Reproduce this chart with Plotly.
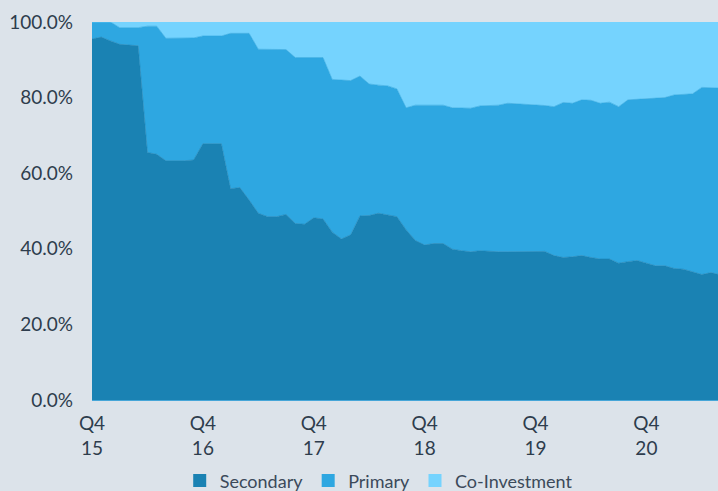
import plotly.graph_objects as go

# Monthly data, Q4 2015 onwards (month index 0 = Dec 2015)
months = list(range(69))

secondary = [95.5, 96.0, 95.0, 94.1, 93.9, 93.7, 65.5, 65.0, 63.3, 63.3,
             63.3, 63.5, 67.8, 67.8, 67.8, 55.9, 56.2, 52.9, 49.4, 48.5,
             48.5, 49.1, 46.7, 46.5, 48.2, 47.9, 44.4, 42.6, 43.7, 48.7,
             48.8, 49.4, 48.9, 48.5, 45.0, 42.2, 41.0, 41.4, 41.4, 39.9,
             39.5, 39.2, 39.5, 39.3, 39.2, 39.2, 39.2, 39.3, 39.3, 39.3,
             38.2, 37.7, 37.9, 38.2, 37.7, 37.3, 37.3, 36.2, 36.6, 36.9,
             36.2, 35.5, 35.5, 34.8, 34.6, 33.9, 33.2, 33.7, 33.1]

primary = [4.5, 4.0, 5.0, 4.4, 4.6, 4.8, 33.4, 33.9, 32.4, 32.4,
           32.4, 32.3, 28.5, 28.5, 28.5, 41.1, 40.8, 44.1, 43.4, 44.3,
           44.3, 43.6, 43.9, 44.1, 42.4, 42.7, 40.4, 42.0, 40.8, 37.0,
           34.8, 33.9, 34.2, 33.8, 32.3, 35.8, 37.0, 36.6, 36.6, 37.4,
           37.7, 38.0, 38.3, 38.6, 38.8, 39.3, 39.2, 38.9, 38.7, 38.6,
           39.4, 41.0, 40.6, 41.2, 41.6, 41.2, 41.5, 41.4, 42.8, 42.6,
           43.6, 44.2, 44.5, 45.9, 46.2, 47.1, 49.5, 48.8, 49.4]

co_investment = [0.0, 0.0, 0.0, 1.5, 1.5, 1.5, 1.1, 1.1, 4.3, 4.3,
                 4.3, 4.2, 3.7, 3.7, 3.7, 3.0, 3.0, 3.0, 7.2, 7.2,
                 7.2, 7.3, 9.4, 9.4, 9.4, 9.4, 15.2, 15.4, 15.5, 14.3,
                 16.4, 16.7, 16.9, 17.7, 22.7, 22.0, 22.0, 22.0, 22.0, 22.7,
                 22.8, 22.8, 22.2, 22.1, 22.0, 21.5, 21.6, 21.8, 22.0, 22.1,
                 22.4, 21.3, 21.5, 20.6, 20.7, 21.5, 21.2, 22.4, 20.6, 20.5,
                 20.2, 20.3, 20.0, 19.3, 19.2, 19.0, 17.3, 17.5, 17.5]

series_names = ["Secondary", "Primary", "Co-Investment"]
tick_months = [0, 12, 24, 36, 48, 60]
tick_labels = ["Q4<br>15", "Q4<br>16", "Q4<br>17", "Q4<br>18", "Q4<br>19", "Q4<br>20"]
y_ticks = [0, 20, 40, 60, 80, 100]
y_tick_labels = ["0.0%", "20.0%", "40.0%", "60.0%", "80.0%", "100.0%"]

colors = ["#1a82b3", "#2ea7e1", "#75d3fe"]
bg = "#dce3ea"
text_color = "#2e3d4d"

fig = go.Figure()
for name, vals, col in zip(series_names, [secondary, primary, co_investment], colors):
    fig.add_trace(go.Scatter(
        x=months, y=vals, name=name, mode="lines",
        stackgroup="one", line=dict(width=0.6, color=col),
        fillcolor=col, showlegend=False, hoverinfo="skip"))
for name, col in zip(series_names, colors):
    # legend proxy with square marker
    fig.add_trace(go.Scatter(
        x=[None], y=[None], name=name, mode="markers",
        marker=dict(symbol="square", size=13, color=col),
        showlegend=True))

fig.update_layout(
    width=718, height=491,
    margin=dict(l=92, r=0, t=22, b=91, autoexpand=False),
    paper_bgcolor=bg, plot_bgcolor=bg,
    font=dict(family="Lato", size=19, color=text_color),
    legend=dict(orientation="h", x=0.458, xanchor="center", y=-0.214,
                yanchor="middle", font=dict(size=18, color="#3b4a5a"),
                bgcolor="rgba(0,0,0,0)", traceorder="normal",
                itemwidth=30),
    xaxis=dict(range=[0, 67.75], tickvals=tick_months, ticktext=tick_labels,
               showgrid=False, zeroline=False, showline=True,
               linecolor="#46a6d8", linewidth=1, ticks="",
               ticklabelstandoff=6, fixedrange=True, automargin=False),
    yaxis=dict(range=[0, 100], tickvals=y_ticks, ticktext=y_tick_labels,
               showgrid=False, zeroline=False, showline=False, ticks="",
               ticklabelstandoff=18, fixedrange=True, automargin=False),
)

fig.write_html(
    "out.html",
    config={"displayModeBar": False},
    post_script="document.body.style.margin='0';document.body.style.overflow='hidden';",
)
